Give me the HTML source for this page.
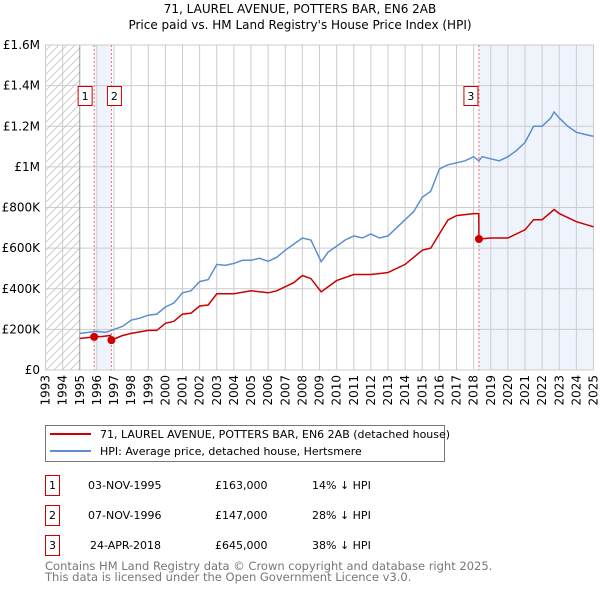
<!DOCTYPE html>
<html><head><meta charset="utf-8"><style>
body{margin:0;background:#fff;font-family:"DejaVu Sans","Liberation Sans",sans-serif;}
svg text{font-family:"DejaVu Sans","Liberation Sans",sans-serif;}
</style></head><body>
<svg id="chart" width="600" height="590" xmlns="http://www.w3.org/2000/svg">
<defs><pattern id="hatch" width="8" height="8" patternUnits="userSpaceOnUse"><path d="M-2,2 L2,-2 M0,8 L8,0 M6,10 L10,6" stroke="#ccc" stroke-width="1"/></pattern></defs>
<text x="300" y="13" text-anchor="middle" font-size="12">71, LAUREL AVENUE, POTTERS BAR, EN6 2AB</text>
<text x="300" y="29" text-anchor="middle" font-size="12">Price paid vs. HM Land Registry's House Price Index (HPI)</text>
<g id="plot"></g>
<g>
<rect x="45.5" y="425.5" width="399" height="36" fill="#fff" stroke="#777"/>
<line x1="50" y1="434" x2="91" y2="434" stroke="#cc0000" stroke-width="2"/>
<text x="100" y="438" font-size="11">71, LAUREL AVENUE, POTTERS BAR, EN6 2AB (detached house)</text>
<line x1="50" y1="451" x2="91" y2="451" stroke="#5b8fd0" stroke-width="2"/>
<text x="100" y="455" font-size="11">HPI: Average price, detached house, Hertsmere</text>
</g>
<g font-size="11">
<rect x="45.5" y="475.5" width="14" height="20" fill="#fff" stroke="#cc0000"/><text x="52.5" y="489" text-anchor="middle">1</text>
<text x="88" y="489">03-NOV-1995</text><text x="215" y="489">£163,000</text><text x="312" y="489">14% ↓ HPI</text>
<rect x="45.5" y="505.5" width="14" height="20" fill="#fff" stroke="#cc0000"/><text x="52.5" y="519" text-anchor="middle">2</text>
<text x="88" y="519">07-NOV-1996</text><text x="215" y="519">£147,000</text><text x="312" y="519">28% ↓ HPI</text>
<rect x="45.5" y="535.5" width="14" height="20" fill="#fff" stroke="#cc0000"/><text x="52.5" y="549" text-anchor="middle">3</text>
<text x="90" y="549">24-APR-2018</text><text x="215" y="549">£645,000</text><text x="312" y="549">38% ↓ HPI</text>
</g>
<text x="45" y="570" font-size="11.5" fill="#777">Contains HM Land Registry data © Crown copyright and database right 2025.</text>
<text x="45" y="581" font-size="11.5" fill="#777">This data is licensed under the Open Government Licence v3.0.</text>
</svg>
<script>
const hpiYears=[1995,1995.5,1996,1996.5,1997,1997.5,1998,1998.5,1999,1999.5,2000,2000.5,2001,2001.5,2002,2002.5,2003,2003.5,2004,2004.5,2005,2005.5,2006,2006.5,2007,2007.5,2008,2008.5,2009.1,2009.5,2010,2010.5,2011,2011.5,2012,2012.5,2013,2013.5,2014,2014.5,2015,2015.5,2016,2016.5,2017,2017.5,2018,2018.3,2018.5,2019,2019.5,2020,2020.5,2021,2021.5,2022,2022.5,2022.7,2023,2023.5,2024,2024.5,2025];
const hpiValues=[180,185,190,185,200,215,245,255,270,275,310,330,380,390,435,445,520,515,525,540,540,550,535,555,590,620,650,640,533,580,610,640,660,650,670,650,660,700,740,780,850,880,990,1010,1020,1030,1050,1030,1050,1040,1030,1050,1080,1120,1200,1200,1240,1270,1240,1200,1170,1160,1150];
const propYears=[1995,1995.84,1996.3,1996.8,1996.85,1997.5,1998,1999,1999.5,2000,2000.5,2001,2001.5,2002,2002.5,2003,2003.5,2004,2005,2006,2006.5,2007,2007.5,2008,2008.5,2009.1,2010,2011,2012,2013,2014,2015,2015.5,2016,2016.5,2017,2018,2018.3,2018.31,2019,2020,2021,2021.5,2022,2022.7,2023,2024,2025];
const propValues=[155,163,165,170,147,170,180,195,195,230,240,275,280,315,320,375,375,375,390,380,390,410,430,465,450,385,440,470,470,480,520,590,600,670,738,760,770,770,645,650,650,690,740,740,790,770,730,705];
const saleYears=[1995.84,1996.85,2018.31];
const saleValues=[163,147,645];
const saleLabels=["1","2","3"];
const yTicks=[0,200,400,600,800,1000,1200,1400,1600];
const yTickLabels=["£0","£200K","£400K","£600K","£800K","£1M","£1.2M","£1.4M","£1.6M"];
const xTicks=[1993,1994,1995,1996,1997,1998,1999,2000,2001,2002,2003,2004,2005,2006,2007,2008,2009,2010,2011,2012,2013,2014,2015,2016,2017,2018,2019,2020,2021,2022,2023,2024,2025];

const X0=45.5,X1=593.5,Y0=370,Y1=45;
const xs=y=>X0+(y-1993)/32*(X1-X0);
const ys=v=>Y0-v/1600*(Y0-Y1);
const NS="http://www.w3.org/2000/svg";
const g=document.getElementById('plot');
function mk(t,a){const e=document.createElementNS(NS,t);for(const k in a)e.setAttribute(k,a[k]);g.appendChild(e);return e;}
let e;
e=mk('rect',{x:xs(1993),y:Y1,width:xs(1995)-xs(1993),height:Y0-Y1,fill:'url(#hatch)'});


e=mk('rect',{x:xs(saleYears[0]),y:Y1,width:xs(saleYears[1])-xs(saleYears[0]),height:Y0-Y1,fill:'#eef3fc'});


e=mk('rect',{x:xs(saleYears[2]),y:Y1,width:X1-xs(saleYears[2]),height:Y0-Y1,fill:'#eef3fc'});


yTicks.forEach((v,i)=>{
 e=mk('line',{x1:X0,x2:X1,y1:ys(v),y2:ys(v),stroke:'#ccc'});
 
 
 e=mk('text',{x:40,y:ys(v)+4,'text-anchor':'end','font-size':12});
 e.textContent=yTickLabels[i];
 
 
});
xTicks.forEach(y=>{
 e=mk('line',{x1:xs(y),x2:xs(y),y1:Y1,y2:Y0,stroke:y==1995?'#999':'#ccc'});
 
 
 e=mk('text',{x:0,y:0,'font-size':12,'text-anchor':'end',transform:`translate(${xs(y)+4},${Y0+5}) rotate(-90)`});
 e.textContent=y;
 
 
});
e=mk('rect',{x:X0,y:Y1,width:X1-X0,height:Y0-Y1,fill:'none',stroke:'#ccc'});


saleYears.forEach((y,i)=>{
 e=mk('line',{x1:xs(y),x2:xs(y),y1:Y1,y2:Y0,stroke:'#f07070','stroke-dasharray':'2,2'});
 
 
});
const path=(xa,va)=>xa.map((y,i)=>(i?'L':'M')+xs(y).toFixed(1)+','+ys(va[i]).toFixed(1)).join('');
e=mk('path',{d:path(hpiYears,hpiValues),fill:'none',stroke:'#5b8fd0','stroke-width':1.5});


e=mk('path',{d:path(propYears,propValues),fill:'none',stroke:'#cc0000','stroke-width':1.5});


saleYears.forEach((y,i)=>{
 e=mk('circle',{cx:xs(y),cy:ys(saleValues[i]),r:4,fill:'#cc0000'});
 
 
 const bx=i==1?xs(y)-4:xs(y)-16;
 e=mk('rect',{x:i==2?xs(y)-15:bx,y:86.5,width:14,height:19,fill:'#fff',stroke:'#cc0000'});
 
 
 e=mk('text',{x:(i==2?xs(y)-15:bx)+7,y:100,'text-anchor':'middle','font-size':11});
 e.textContent=saleLabels[i];
 
 
});
</script>
</body></html>
